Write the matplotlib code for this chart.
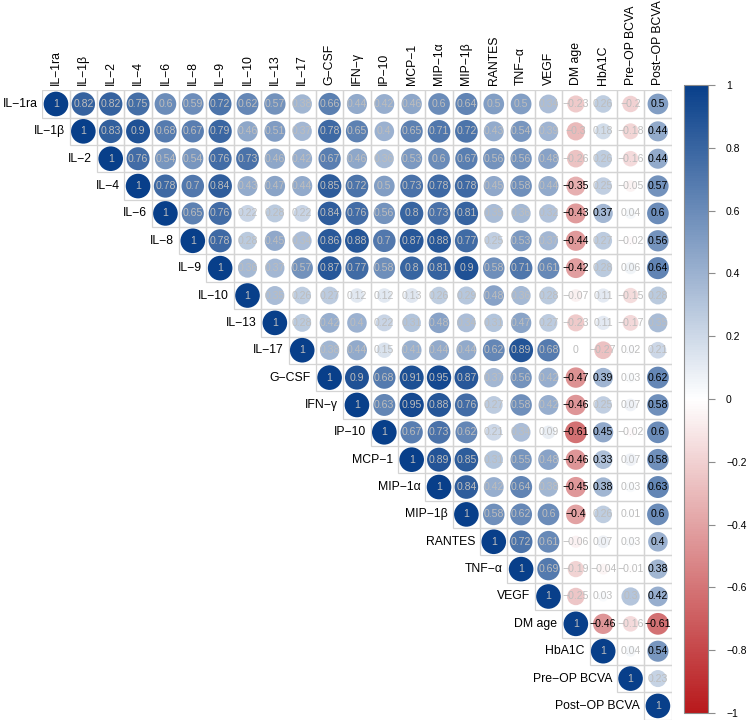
import matplotlib
matplotlib.use('Agg')
import matplotlib.pyplot as plt
from matplotlib.colors import LinearSegmentedColormap, Normalize
from matplotlib.patches import Circle, Rectangle
from matplotlib.cm import ScalarMappable
import numpy as np

plt.rcParams['font.family'] = ['Liberation Sans', 'DejaVu Sans']

labels = ['IL−1ra', 'IL−1β', 'IL−2', 'IL−4', 'IL−6', 'IL−8', 'IL−9', 'IL−10',
          'IL−13', 'IL−17', 'G−CSF', 'IFN−γ', 'IP−10', 'MCP−1', 'MIP−1α',
          'MIP−1β', 'RANTES', 'TNF−α', 'VEGF', 'DM age', 'HbA1C',
          'Pre−OP BCVA', 'Post−OP BCVA']

# upper triangle, each row starts at the diagonal
upper_rows = [
    [1, .82, .82, .75, .6, .59, .72, .62, .57, .38, .66, .44, .42, .46, .6, .64, .5, .5, .34, -.23, .26, -.2, .5],
    [1, .83, .9, .68, .67, .79, .46, .51, .37, .78, .65, .4, .65, .71, .72, .43, .54, .39, -.3, .18, -.18, .44],
    [1, .76, .54, .54, .76, .73, .46, .42, .67, .46, .36, .53, .6, .67, .56, .56, .48, -.26, .26, -.16, .44],
    [1, .78, .7, .84, .43, .47, .44, .85, .72, .5, .73, .78, .78, .45, .58, .44, -.35, .25, -.05, .57],
    [1, .65, .76, .22, .28, .22, .84, .76, .56, .8, .73, .81, .35, .36, .32, -.43, .37, .04, .6],
    [1, .78, .28, .45, .34, .86, .88, .7, .87, .88, .77, .25, .53, .37, -.44, .27, -.02, .56],
    [1, .36, .37, .57, .87, .77, .58, .8, .81, .9, .58, .71, .61, -.42, .28, .06, .64],
    [1, .35, .26, .27, .12, .12, .13, .26, .29, .48, .36, .28, -.07, .11, -.15, .28],
    [1, .28, .42, .4, .22, .31, .48, .34, .31, .47, .27, -.23, .11, -.17, .35],
    [1, .38, .44, .15, .41, .44, .44, .62, .89, .68, 0, -.27, .02, .21],
    [1, .9, .68, .91, .95, .87, .37, .56, .42, -.47, .39, .03, .62],
    [1, .63, .95, .88, .76, .27, .58, .42, -.46, .25, .07, .58],
    [1, .67, .73, .62, .21, .34, .09, -.61, .45, -.02, .6],
    [1, .89, .85, .31, .55, .48, -.46, .33, .07, .58],
    [1, .84, .42, .64, .38, -.45, .38, .03, .63],
    [1, .58, .62, .6, -.4, .26, .01, .6],
    [1, .72, .61, -.06, .07, .03, .4],
    [1, .69, -.19, -.04, -.01, .38],
    [1, -.25, .03, .3, .42],
    [1, -.46, -.16, -.61],
    [1, .04, .54],
    [1, .23],
    [1],
]

# significant coefficients in the clinical columns (printed in black)
sig_dm_age = [3, 4, 5, 6, 10, 11, 12, 13, 14, 15]
sig_hba1c = [4, 10, 12, 13, 14, 19]
sig_pre_op = []
sig_post_op = [0, 1, 2, 3, 4, 5, 6, 10, 11, 12, 13, 14, 15, 16, 17, 18, 19, 20]

n = len(labels)
sig = {19: sig_dm_age, 20: sig_hba1c, 21: sig_pre_op, 22: sig_post_op}

cmap = LinearSegmentedColormap.from_list('rb', ['#b8191c', '#ffffff', '#083f8a'])
norm = Normalize(-1, 1)


def fmt(v):
    s = ('%.2f' % v).rstrip('0').rstrip('.')
    if s in ('-0', ''):
        s = '0'
    return s.replace('-', '−')


fig = plt.figure(figsize=(7.5, 7.25), dpi=100)
ax = fig.add_axes([42.3 / 750, 5.4 / 725, 629.3 / 750, 629.3 / 725])
ax.set_xlim(-0.5, n - 0.5)
ax.set_ylim(n - 0.5, -0.5)
ax.set_aspect('equal')
ax.axis('off')

for i, row in enumerate(upper_rows):
    for k, v in enumerate(row):
        j = i + k
        ax.add_patch(Rectangle((j - 0.5, i - 0.5), 1, 1, facecolor='none',
                               edgecolor='#d4d4d4', lw=0.9, zorder=1))
        if v != 0:
            ax.add_patch(Circle((j, i), 0.45 * abs(v) ** 0.25,
                                facecolor=cmap(norm(v)), edgecolor='none', zorder=2))
        col = '#bdbdbd'
        if j != i and j in sig and i in sig[j]:
            col = 'black'
        ax.text(j, i, fmt(v), ha='center', va='center', fontsize=7.6,
                color=col, zorder=3)

for i, lab in enumerate(labels):
    ax.text(i - 0.5 - 0.18, i, lab, ha='right', va='center', fontsize=8.8,
            clip_on=False)
    ax.text(i, -0.5 - 0.18, lab, ha='center', va='bottom', rotation=90,
            fontsize=8.8, clip_on=False)

cax = fig.add_axes([684 / 750, 12 / 725, 24 / 750, 628 / 725])
cb = fig.colorbar(ScalarMappable(norm=norm, cmap=cmap), cax=cax)
ticks = np.round(np.arange(-1, 1.01, 0.2), 1)
cb.set_ticks(ticks)
cb.set_ticklabels([fmt(t) for t in ticks])
cb.outline.set_edgecolor('#8c8c8c')
cb.outline.set_linewidth(0.8)
cax.tick_params(length=5, width=0.8, color='#8c8c8c', labelsize=7.5, pad=8)

fig.savefig('out.png', dpi=100)
